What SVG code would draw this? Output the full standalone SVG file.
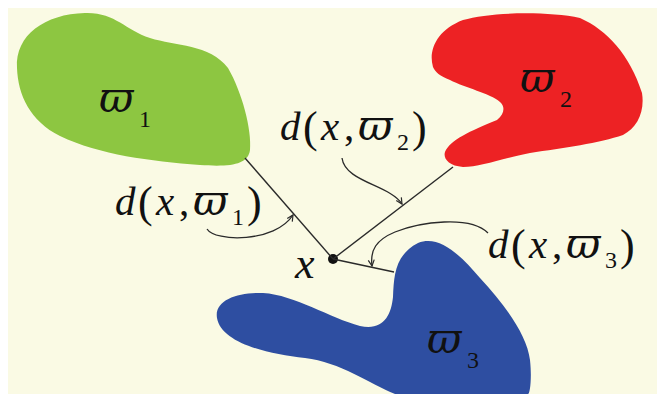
<svg xmlns="http://www.w3.org/2000/svg" width="657" height="394" viewBox="0 0 657 394">
<style>
.m{font-family:"Liberation Serif","DejaVu Serif",serif;fill:#111;}
.i{font-style:italic;}
.lbl{font-size:41px;}
.w{font-family:"DejaVu Serif",serif;font-size:42px;font-style:italic;}
.sub{font-size:24px;font-style:normal;}
.par{font-size:44px;font-style:normal;}
.ln{fill:none;stroke:#2a2a2a;stroke-width:1.4;}
.cv{fill:none;stroke:#2a2a2a;stroke-width:1.3;}
</style>
<defs>
<marker id="ah" viewBox="0 0 8 8" refX="7" refY="4" markerWidth="8" markerHeight="8" markerUnits="userSpaceOnUse" orient="auto">
<path d="M1,1 L7,4 L1,7" fill="none" stroke="#2a2a2a" stroke-width="1.2"/>
</marker>
</defs>
<rect width="657" height="394" fill="#ffffff"/>
<rect x="8" y="8" width="649" height="386" fill="#fafae4"/>

<g id="region1">
<path d="M17,68 C15,35 45,14 85,13 C115,12 125,30 150,38 C175,46 210,44 228,68 C242,92 252,130 250,150 C248,165 230,167 200,165 C150,161 100,155 60,136 C30,121 18,95 17,68 Z" fill="#8dc641"/>
<text class="m lbl" y="112"><tspan class="w" x="99">ϖ</tspan><tspan class="sub" x="139" y="127">1</tspan></text>
</g>

<g id="region2">
<path d="M433,67 C428,50 437,30 463,20 C490,12 547,11 580,18 C607,30 630,55 642,93 C645,112 637,128 623,135 C600,143 563,148 530,153 C500,159 480,167 463,167 C448,166 443,158 445,152 C450,140 470,131 497,120 C505,114 505,106 500,102 C490,93 465,88 450,80 C440,76 435,72 433,67 Z" fill="#ed2224"/>
<text class="m lbl" y="92"><tspan class="w" x="520">ϖ</tspan><tspan class="sub" x="560" y="107">2</tspan></text>
</g>

<g id="region3">
<path d="M217,318 C214,300 238,292 263,293 C295,295 330,318 360,326 C383,331 391,316 393,297 C394,275 395,255 418,243 C438,235 458,252 480,278 C505,305 527,335 530,360 C532,378 530,394 528,394 L395,394 C370,384 340,362 305,358 C265,354 221,342 217,318 Z" fill="#2e4ea1"/>
<text class="m lbl" y="353"><tspan class="w" x="427">ϖ</tspan><tspan class="sub" x="467" y="368">3</tspan></text>
</g>

<g id="point-x">
<circle cx="333" cy="259" r="5" fill="#111"/>
<text class="m i" font-size="44" x="295" y="278">x</text>
</g>

<g id="connectors">
<line class="ln" x1="245" y1="158" x2="333" y2="259"/>
<line class="ln" x1="333" y1="259" x2="453" y2="167"/>
<line class="ln" x1="333" y1="259" x2="394" y2="272"/>
<path class="cv" d="M207,229 C215,242 275,243 293,215" marker-end="url(#ah)"/>
<path class="cv" d="M342,158 C345,182 390,185 402,204" marker-end="url(#ah)"/>
<path class="cv" d="M488,233 C470,215 420,222 395,232 C376,240 370,250 372,266" marker-end="url(#ah)"/>
</g>

<g id="label-d1" transform="translate(115,215)">
<text class="m lbl"><tspan class="i" x="0">d</tspan><tspan class="par" x="23" y="2">(</tspan><tspan class="i" x="41" y="0">x</tspan><tspan x="64">,</tspan><tspan class="w" x="78">ϖ</tspan><tspan class="sub" x="117" y="10">1</tspan><tspan class="par" x="132" y="2">)</tspan></text>
</g>
<g id="label-d2" transform="translate(280,140)">
<text class="m lbl"><tspan class="i" x="0">d</tspan><tspan class="par" x="23" y="2">(</tspan><tspan class="i" x="41" y="0">x</tspan><tspan x="64">,</tspan><tspan class="w" x="78">ϖ</tspan><tspan class="sub" x="117" y="10">2</tspan><tspan class="par" x="132" y="2">)</tspan></text>
</g>
<g id="label-d3" transform="translate(488,258)">
<text class="m lbl"><tspan class="i" x="0">d</tspan><tspan class="par" x="23" y="2">(</tspan><tspan class="i" x="41" y="0">x</tspan><tspan x="64">,</tspan><tspan class="w" x="78">ϖ</tspan><tspan class="sub" x="117" y="10">3</tspan><tspan class="par" x="132" y="2">)</tspan></text>
</g>
</svg>
